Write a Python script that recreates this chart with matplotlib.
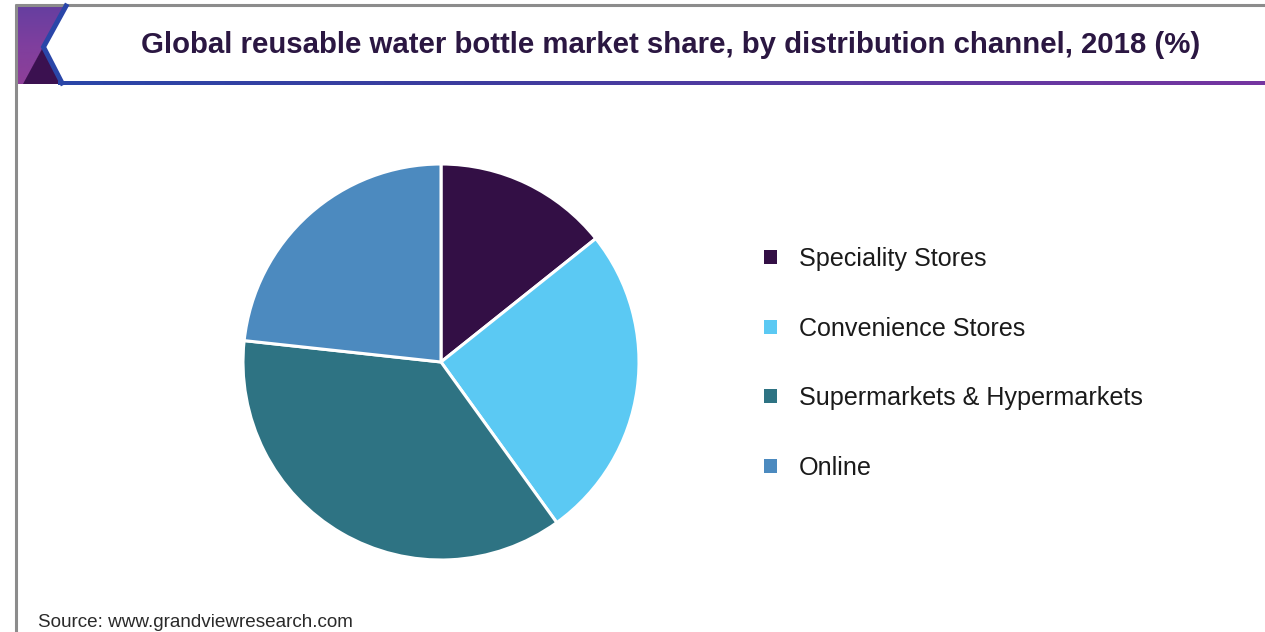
import matplotlib
matplotlib.use("Agg")
import matplotlib.pyplot as plt
import numpy as np
from matplotlib.patches import Polygon, Rectangle
from matplotlib.colors import LinearSegmentedColormap

# Market share by distribution channel, 2018 (%)
channels = ["Speciality Stores", "Convenience Stores",
            "Supermarkets & Hypermarkets", "Online"]
shares = [14.3, 25.8, 36.7, 23.3]
colors = ["#330f45", "#5bc9f3", "#2e7383", "#4c8abf"]

title = "Global reusable water bottle market share, by distribution channel, 2018 (%)"
source = "Source: www.grandviewresearch.com"

W, H = 1265, 632
fig = plt.figure(figsize=(W / 100, H / 100), dpi=100)
fig.patch.set_facecolor("white")

# Background layer in pixel coordinates (origin top-left)
bg = fig.add_axes([0, 0, 1, 1], zorder=0)
bg.set_xlim(0, W)
bg.set_ylim(H, 0)
bg.axis("off")

# Frame
bg.plot([15, W], [4.5, 4.5], color="#8c8c8c", lw=2.2, solid_capstyle="butt")
bg.plot([16, 16], [4, H], color="#8c8c8c", lw=2.2, solid_capstyle="butt")

# Header emblem: purple gradient strip with dark triangle and blue chevron
strip = Polygon([(17, 6), (65, 6), (24, 84), (17, 84)], closed=True,
                facecolor="none", edgecolor="none")
bg.add_patch(strip)
purple = LinearSegmentedColormap.from_list("hdr", ["#663ea0", "#7f3f9e", "#8e3f98"])
grad = np.linspace(0, 1, 100).reshape(-1, 1)
im = bg.imshow(grad, cmap=purple, extent=(17, 66, 84, 6), aspect="auto",
               zorder=1, interpolation="bilinear")
im.set_clip_path(strip)
bg.add_patch(Polygon([(43, 47), (23, 84), (62, 84)], closed=True,
                     facecolor="#3b1150", edgecolor="none", zorder=2))
bg.plot([66, 43.5, 62], [6, 47, 83], color="#2a46a8", lw=3.6,
        solid_joinstyle="miter", zorder=3)

# Header rule with blue-to-purple gradient
rule = LinearSegmentedColormap.from_list("rule", ["#2a46a8", "#3c3c9e", "#5a3aa2", "#7535a0"])
bg.imshow(np.linspace(0, 1, 256).reshape(1, -1), cmap=rule,
          extent=(58, W, 85.5, 81.5), aspect="auto", zorder=3,
          interpolation="bilinear")

# Title, sized to span the header
t = bg.text(671, 45, title, ha="center", va="center", fontsize=20,
            fontweight="bold", family="Liberation Sans", color="#2b1742", zorder=4)
fig.canvas.draw()
r = fig.canvas.get_renderer()
tw = t.get_window_extent(r).width
t.set_fontsize(20 * 1057 / tw)

# Pie
cx, cy, rad = 441, 362, 198
pie_ax = fig.add_axes([(cx - rad) / W, (H - cy - rad) / H, 2 * rad / W, 2 * rad / H],
                      zorder=2)
wedges, _ = pie_ax.pie(shares, colors=colors, startangle=90, counterclock=False,
                       radius=1.0,
                       wedgeprops=dict(edgecolor="white", linewidth=2.2))
pie_ax.set_xlim(-1, 1)
pie_ax.set_ylim(-1, 1)
pie_ax.set_aspect("equal")
pie_ax.axis("off")

# Legend
rows_y = [257, 327, 396, 466]
for name, col, y in zip(channels, colors, rows_y):
    bg.add_patch(Rectangle((764, y - 7), 13, 14, facecolor=col, edgecolor="none",
                           zorder=4))
    bg.text(799, y + 2, name, ha="left", va="center", fontsize=18.1,
            family="Liberation Sans", color="#1a1a1a", zorder=4)

# Source note
s = bg.text(38, 627, source, ha="left", va="baseline", fontsize=13.5,
            family="Liberation Sans", color="#2a2a2a", zorder=4)
fig.canvas.draw()
sw = s.get_window_extent(r).width
s.set_fontsize(13.5 * 315 / sw)

fig.savefig("out.png", dpi=100, facecolor="white")
